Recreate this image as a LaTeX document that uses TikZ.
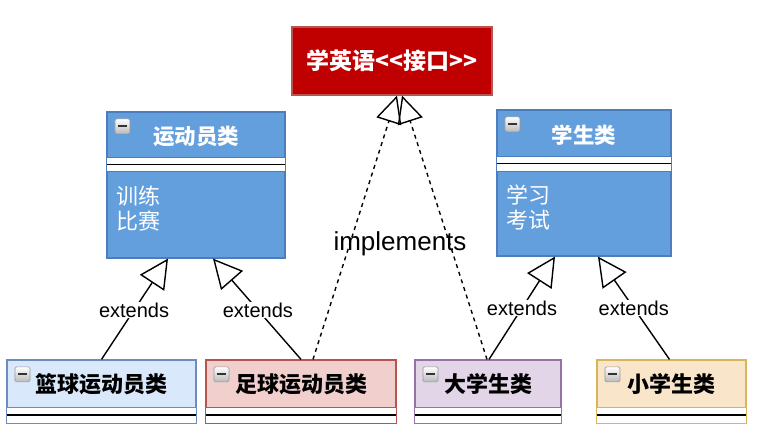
\documentclass[tikz,border=0pt]{standalone}
\usepackage{fontspec}
\setmainfont{Liberation Sans}
\newfontfamily\cjk{Noto Sans CJK SC}
\usetikzlibrary{arrows.meta,calc}
\definecolor{bluef}{HTML}{639FDD}
\definecolor{blueb}{HTML}{4C7DBE}
\definecolor{redf}{HTML}{C00000}
\definecolor{redb}{HTML}{B85450}
\definecolor{bbf}{HTML}{DAE8FC}
\definecolor{bbb}{HTML}{6C8EBF}
\definecolor{fbf}{HTML}{F0CFCD}
\definecolor{fbb}{HTML}{B85450}
\definecolor{uf}{HTML}{E1D5E7}
\definecolor{ub}{HTML}{9673A6}
\definecolor{pf}{HTML}{F9E6CA}
\definecolor{pb}{HTML}{D6B656}
\tikzset{
  classbox/.style={rectangle, line width=1.2pt, inner sep=0pt},
  toptitle/.style={font=\cjk\bfseries\fontsize{21.5}{24}\selectfont, text=white},
  bottitle/.style={font=\cjk\bfseries\fontsize{22}{24}\selectfont, text=black},
  bodytext/.style={font=\cjk\fontsize{22}{25}\selectfont, text=white, align=left, anchor=north west, inner sep=0pt},
  extline/.style={line width=1.4pt, -{Triangle[open, length=29pt, width=29pt, line width=1.4pt]}},
  impline/.style={line width=1.4pt, dash pattern=on 4pt off 4pt, -{Triangle[open, length=27pt, width=26pt, line width=1.4pt]}},
  extlabel/.style={font=\fontsize{20}{22}\selectfont, fill=white, inner sep=1pt},
  minus icon/.pic={
    \draw[gray!80, top color=white, bottom color=gray!55, rounded corners=1.5pt, line width=0.7pt] (-7.5,-7.5) rectangle (7.5,7.5);
    \draw[black!80, line width=2pt] (-4.5,0) -- (4.5,0);
  }
}
\newcommand\botclass[7]{%
  \node[classbox, draw=#3, fill=#2, minimum width=#4pt, minimum height=63pt] (#1) at (#5,391.5) {};
  \fill[white] ($(#1.north west)+(0,48)$) rectangle ($(#1.south east)$);
  \draw[#3, line width=1.2pt] ($(#1.north west)+(0,48)$) -- ($(#1.north east)+(0,48)$);
  \draw[black, line width=1.4pt] ($(#1.north west)+(0,55.5)$) -- ($(#1.north east)+(0,55.5)$);
  \draw[#3, line width=1.2pt] (#1.north west) rectangle (#1.south east);
  \pic at ($(#1.north west)+(16,15)$) {minus icon};
  \node[bottitle] (#1T) at ($(#1.north)+(#7,25)$) {#6};
}
\begin{document}
\begin{tikzpicture}[x=1pt,y=-1pt]
\useasboundingbox[fill=white] (0,0) rectangle (763,435);

% interface
\node[classbox, draw=redb, fill=redf, minimum width=200pt, minimum height=68pt,
      font=\cjk\bfseries\fontsize{23}{26}\selectfont, text=white] (iface) at (392,61) {学英语<<接口>>};

% top class: 运动员类
\node[classbox, draw=blueb, fill=bluef, minimum width=178pt, minimum height=146pt] (sport) at (196,185) {};
\fill[white] ($(sport.north west)+(0,46)$) rectangle ($(sport.north east)+(0,60)$);
\draw[blueb, line width=1.2pt] ($(sport.north west)+(0,46)$) -- ($(sport.north east)+(0,46)$);
\draw[blueb, line width=1.2pt] ($(sport.north west)+(0,60)$) -- ($(sport.north east)+(0,60)$);
\draw[black, line width=1.4pt] ($(sport.north west)+(0,53)$) -- ($(sport.north east)+(0,53)$);
\draw[blueb, line width=1.2pt] (sport.north west) rectangle (sport.south east);
\pic at ($(sport.north west)+(16,15)$) {minus icon};
\node[toptitle] (sportT) at ($(sport.north)+(0,25)$) {运动员类};
\node[bodytext] (sportB) at ($(sport.north west)+(10,74)$) {训练\\比赛};

% top class: 学生类
\node[classbox, draw=blueb, fill=bluef, minimum width=174pt, minimum height=146pt] (stud) at (584,183) {};
\fill[white] ($(stud.north west)+(0,47)$) rectangle ($(stud.north east)+(0,62)$);
\draw[blueb, line width=1.2pt] ($(stud.north west)+(0,47)$) -- ($(stud.north east)+(0,47)$);
\draw[blueb, line width=1.2pt] ($(stud.north west)+(0,62)$) -- ($(stud.north east)+(0,62)$);
\draw[black, line width=1.4pt] ($(stud.north west)+(0,54)$) -- ($(stud.north east)+(0,54)$);
\draw[blueb, line width=1.2pt] (stud.north west) rectangle (stud.south east);
\pic at ($(stud.north west)+(16,15)$) {minus icon};
\node[toptitle] (studT) at ($(stud.north)+(0,26)$) {学生类};
\node[bodytext] (studB) at ($(stud.north west)+(10,75)$) {学习\\考试};

% bottom classes
\botclass{bball}{bbf}{bbb}{189}{101.5}{篮球运动员类}{0}
\botclass{fball}{fbf}{fbb}{190}{301}{足球运动员类}{0}
\botclass{univ}{uf}{ub}{146}{488}{大学生类}{0}
\botclass{prim}{pf}{pb}{149}{671.5}{小学生类}{0}

% extends connectors
\draw[extline] (bball.north) -- node[extlabel, pos=0.49] (l1) {extends} ([xshift=-28pt]sport.south);
\draw[extline] (fball.north) -- node[extlabel, pos=0.49] (l2) {extends} ([xshift=17pt]sport.south);
\draw[extline] ([xshift=1pt]univ.north) -- node[extlabel, pos=0.5] (l3) {extends} ([xshift=-29pt]stud.south);
\draw[extline] ([xshift=-2pt]prim.north) -- node[extlabel, pos=0.5] (l4) {extends} ([xshift=14pt]stud.south);

% implements connectors
\draw[impline] ([xshift=12pt]fball.north) -- ([xshift=5pt]iface.south);
\draw[impline] ([xshift=-1pt]univ.north) -- ([xshift=10pt]iface.south);
\node[font=\fontsize{26}{30}\selectfont, inner sep=0pt] (impl) at (400,244) {implements};
\end{tikzpicture}
\end{document}
